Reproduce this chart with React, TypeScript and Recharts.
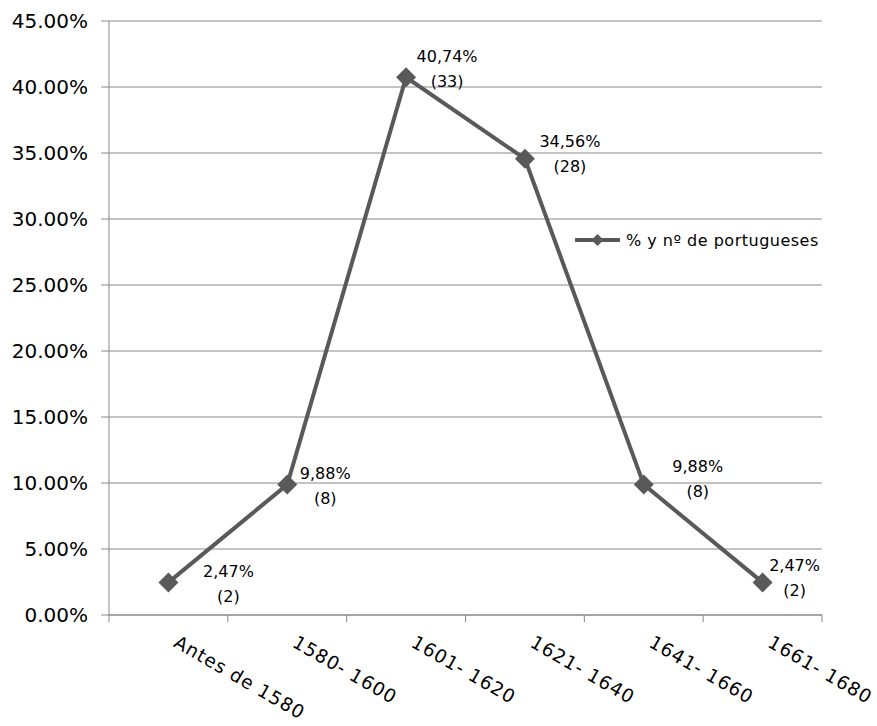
import React from 'react';
import { LineChart, Line, XAxis, YAxis, CartesianGrid, Legend, LabelList } from 'recharts';

const categories = ['Antes de 1580', '1580- 1600', '1601- 1620', '1621- 1640', '1641- 1660', '1661- 1680'];
const percentages = [2.47, 9.88, 40.74, 34.56, 9.88, 2.47];
const counts = [2, 8, 33, 28, 8, 2];
const yTicks = [0, 5, 10, 15, 20, 25, 30, 35, 40, 45];
const seriesName = '% y nº de portugueses';

// label placement relative to each point (dx of centre, dy of first baseline)
const labelOffsets: [number, number][] = [
  [60, -5],
  [38, -6],
  [41, -15],
  [45, -12],
  [54, -13],
  [32, -11],
];

const data = categories.map((c, i) => ({ name: c, pct: percentages[i], count: counts[i] }));

const W = 877;
const H = 726;
const Y_AXIS_W = 109;
const M_RIGHT = 55;
const M_TOP = 21;
const X_AXIS_H = 111;
const PLOT_W = W - Y_AXIS_W - M_RIGHT;

const LINE = '#595959';
const GRID = '#888888';
const FONT = 'DejaVu Sans, Verdana, sans-serif';

const XTick = (props: any) => {
  const { x, y, payload, index } = props;
  const bw = PLOT_W / categories.length;
  return (
    <g>
      <line x1={x - bw / 2} x2={x - bw / 2} y1={y} y2={y + 7} stroke={GRID} strokeWidth={1} />
      {index === categories.length - 1 && (
        <line x1={x + bw / 2} x2={x + bw / 2} y1={y} y2={y + 7} stroke={GRID} strokeWidth={1} />
      )}
      <text
        transform={`translate(${x + 4},${y + 31}) rotate(30)`}
        textAnchor="start"
        fontFamily={FONT}
        fontSize={18.5}
        letterSpacing={1}
        fill="#000"
      >
        {payload.value}
      </text>
    </g>
  );
};

const Diamond = (props: any) => {
  const { cx, cy } = props;
  if (cx == null || cy == null) return null;
  const r = 10;
  return (
    <polygon
      points={`${cx},${cy - r} ${cx + r},${cy} ${cx},${cy + r} ${cx - r},${cy}`}
      fill={LINE}
      stroke="none"
    />
  );
};

const PointLabel = (props: any) => {
  const { x, y, index } = props;
  const [dx, dy] = labelOffsets[index];
  const pct = percentages[index].toFixed(2).replace('.', ',') + '%';
  const cnt = `(${counts[index]})`;
  return (
    <g fontFamily={FONT} fontSize={16} fill="#000">
      <text x={x + dx} y={y + dy} textAnchor="middle">{pct}</text>
      <text x={x + dx} y={y + dy + 25} textAnchor="middle">{cnt}</text>
    </g>
  );
};

const LegendContent = () => (
  <svg width={256} height={26} style={{ display: 'block' }}>
    <line x1={3} x2={48} y1={12} y2={12} stroke={LINE} strokeWidth={4} />
    <polygon points="25.5,6 31.5,12 25.5,18 19.5,12" fill={LINE} />
    <text x={54} y={18} fontFamily={FONT} fontSize={16} letterSpacing={0.5} fill="#000">{seriesName}</text>
  </svg>
);

export default function App() {
  return (
    <div>
      <style>{`body{margin:0}`}</style>
      <LineChart width={W} height={H} data={data} margin={{ top: M_TOP, right: M_RIGHT, bottom: 0, left: 0 }}>
        <CartesianGrid vertical={false} stroke={GRID} strokeWidth={1} />
        <XAxis
          dataKey="name"
          scale="band"
          height={X_AXIS_H}
          tickSize={0}
          tickMargin={0}
          tickLine={false}
          axisLine={{ stroke: GRID }}
          interval={0}
          tick={<XTick />}
        />
        <YAxis
          width={Y_AXIS_W}
          domain={[0, 45]}
          ticks={yTicks}
          tickFormatter={(v: number) => v.toFixed(2) + '%'}
          tickSize={8}
          tickMargin={13}
          tickLine={{ stroke: GRID }}
          axisLine={{ stroke: GRID }}
          tick={{ fill: '#000', fontSize: 20, fontFamily: FONT }}
          interval={0}
        />
        <Legend
          layout="vertical"
          verticalAlign="middle"
          align="center"
          content={<LegendContent />}
          wrapperStyle={{ left: 572, top: 228, width: 256 }}
        />
        <Line
          type="linear"
          dataKey="pct"
          name={seriesName}
          stroke={LINE}
          strokeWidth={4}
          dot={<Diamond />}
          activeDot={false}
          isAnimationActive={false}
        >
          <LabelList dataKey="pct" content={<PointLabel />} />
        </Line>
      </LineChart>
    </div>
  );
}
